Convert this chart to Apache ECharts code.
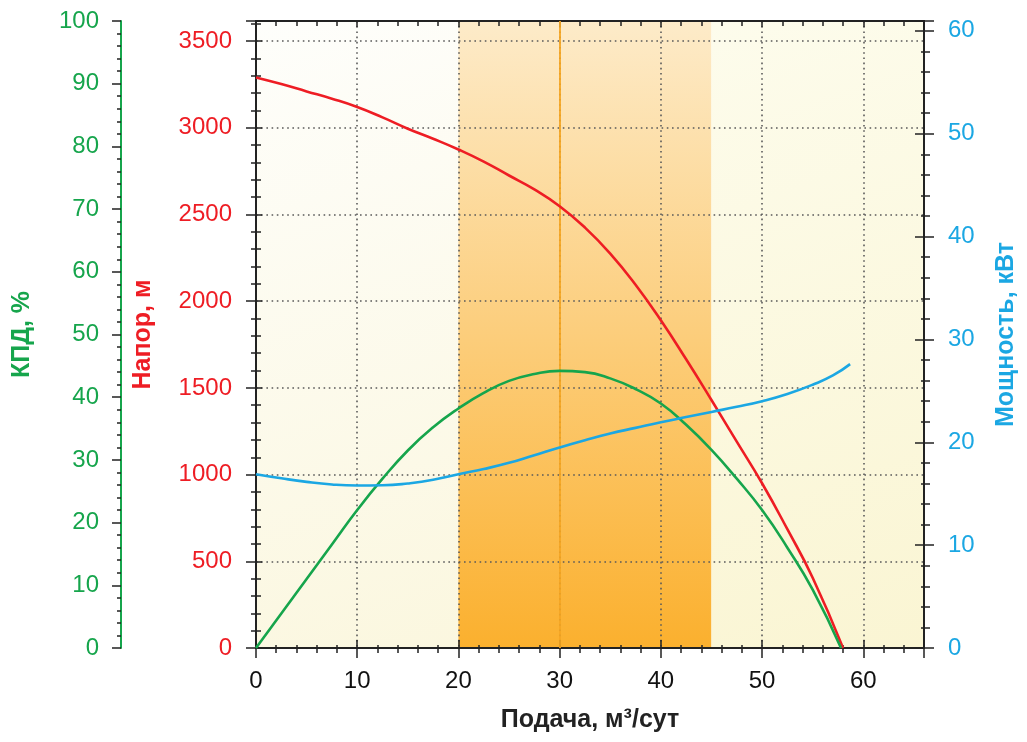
<!DOCTYPE html>
<html>
<head>
<meta charset="utf-8">
<script src="https://cdn.jsdelivr.net/npm/echarts@6/dist/echarts.min.js"></script>
<style>
  html, body { margin: 0; padding: 0; background: #ffffff; }
  #chart { width: 1027px; height: 742px; }
</style>
</head>
<body>
<div id="chart"></div>
<script>
// Данные кривых насоса
const headQ = [0, 2.5, 5, 7.5, 10, 12.5, 15, 17.5, 20, 22.5, 25, 27.5, 30, 32.5, 35, 37.5, 40, 42.5, 45, 47.5, 50, 52.5, 55, 58];
const headH = [3290, 3252, 3210, 3168, 3120, 3060, 2995, 2937, 2875, 2805, 2725, 2645, 2548, 2425, 2275, 2095, 1890, 1665, 1430, 1190, 950, 685, 405, 0];

const effQ = [0, 2.5, 5, 7.5, 10, 12.5, 15, 17.5, 20, 22.5, 25, 27.5, 30, 32.5, 35, 37.5, 40, 42.5, 45, 47.5, 50, 52.5, 55, 57.8];
const effEta = [0, 5.5, 11, 16.5, 22, 27, 31.5, 35.2, 38.2, 40.7, 42.6, 43.7, 44.2, 44.0, 43.0, 41.3, 39, 35.6, 31.6, 27.0, 22, 16.0, 9.3, 0];

const powerQ = [0, 2.5, 5, 7.5, 10, 12.5, 15, 17.5, 20, 22.5, 25, 27.5, 30, 32.5, 35, 37.5, 40, 42.5, 45, 47.5, 50, 52.5, 55, 57, 58.7];
const powerN = [16.9, 16.5, 16.15, 15.9, 15.8, 15.82, 16.0, 16.35, 16.9, 17.4, 18.0, 18.75, 19.5, 20.2, 20.85, 21.4, 21.95, 22.45, 22.95, 23.45, 24.0, 24.7, 25.6, 26.5, 27.6];

// Рабочая зона и номинальная подача
const workRange = [20, 45];
const nominalQ = 30;

const FONT = 'Liberation Sans, Arial, sans-serif';
const RED = '#ee1d24';
const GREEN = '#16a54c';
const BLUE = '#1ba7e3';
const TICK = '#222222';

function pairs(xs, ys) {
    return xs.map((x, i) => [x, ys[i]]);
}

function grad(x, y, x2, y2, c0, c1) {
    return new echarts.graphic.LinearGradient(x, y, x2, y2, [
        { offset: 0, color: c0 },
        { offset: 1, color: c1 },
    ]);
}

const plain = (v) => String(v);
const dotted = { color: '#5a5a5a', width: 1.6, type: [1.6, 3.6] };

// Базовые настройки осей
function xAxisBase(extra) {
    return Object.assign({
        type: 'value',
        min: 0,
        max: 66,
        interval: 10,
        z: 2,
        axisLine: { show: true, onZero: false, lineStyle: { color: TICK, width: 2 } },
        axisLabel: { show: false },
        splitLine: { show: false },
        minorTick: { show: true, splitNumber: 5, length: 5, lineStyle: { color: TICK, width: 1.5 } },
        axisTick: { show: true, length: 9, lineStyle: { color: TICK, width: 1.5 } },
    }, extra);
}

function yAxisBase(extra) {
    return Object.assign({
        type: 'value',
        min: 0,
        z: 2,
        axisLine: { show: true, onZero: false, lineStyle: { color: TICK, width: 2 } },
        axisLabel: { show: false },
        splitLine: { show: false },
        minorTick: { show: true, splitNumber: 5, length: 5, lineStyle: { color: TICK, width: 1.5 } },
        axisTick: { show: true, length: 9, lineStyle: { color: TICK, width: 1.5 } },
    }, extra);
}

const nameStyle = (color, size) => ({ fontFamily: FONT, fontSize: size, fontWeight: 'bold', color: color });
const labelStyle = (color, margin) => ({
    show: true, showMaxLabel: false, margin: margin, fontSize: 24, color: color, fontFamily: FONT, formatter: plain,
});

function curve(name, xs, ys, yAxisIndex, color) {
    return {
        name: name,
        type: 'line',
        xAxisIndex: 0,
        yAxisIndex: yAxisIndex,
        z: 3,
        smooth: 0.5,
        showSymbol: false,
        data: pairs(xs, ys),
        lineStyle: { color: color, width: 2.6 },
    };
}

const chart = echarts.init(document.getElementById('chart'));

const headSeries = curve('Напор', headQ, headH, 0, RED);
// Фон: зоны подачи
headSeries.markArea = {
    silent: true,
    z: 1,
    data: [
        [{ xAxis: 0, itemStyle: { color: grad(0, 0, 1, 1, '#fefefb', '#fbf7df') } }, { xAxis: workRange[0] }],
        [{ xAxis: workRange[0], itemStyle: { color: grad(0, 0, 0, 1, '#fdebc9', '#fbb02e') } }, { xAxis: workRange[1] }],
        [{ xAxis: workRange[1], itemStyle: { color: grad(0, 0, 1, 1, '#fdfcec', '#faf5d3') } }, { xAxis: 66 }],
    ],
};
headSeries.markLine = {
    silent: true,
    z: 2.5,
    symbol: 'none',
    label: { show: false },
    lineStyle: { color: '#f5a623', width: 1.8, type: 'solid' },
    data: [{ xAxis: nominalQ }],
};

const option = {
    animation: false,
    backgroundColor: '#ffffff',
    textStyle: { fontFamily: FONT },
    grid: { left: 256, right: 99, top: 21, bottom: 94 },
    xAxis: [
        xAxisBase({
            position: 'bottom',
            name: 'Подача, м³/сут',
            nameLocation: 'middle',
            nameGap: 60,
            nameTextStyle: nameStyle('#222', 25),
            axisTick: { show: true, length: 10, lineStyle: { color: TICK, width: 1.5 } },
            axisLabel: labelStyle('#111', 21),
            splitLine: { show: true, showMaxLine: false, lineStyle: dotted },
        }),
        xAxisBase({
            position: 'bottom',
            axisTick: { show: true, inside: true, length: 8, lineStyle: { color: TICK, width: 1.5 } },
            minorTick: { show: true, splitNumber: 5, length: 3, lineStyle: { color: TICK, width: 1.5 } },
        }),
        xAxisBase({
            position: 'top',
            axisTick: { show: true, inside: true, length: 6, lineStyle: { color: TICK, width: 1.5 } },
            minorTick: { show: true, splitNumber: 5, length: 5, lineStyle: { color: TICK, width: 1.5 } },
        }),
    ],
    yAxis: [
        // Напор
        yAxisBase({
            position: 'left',
            max: 3616,
            interval: 500,
            name: 'Напор, м',
            nameLocation: 'middle',
            nameRotate: 90,
            nameGap: 100,
            nameTextStyle: nameStyle(RED, 25),
            axisTick: { show: true, length: 10, lineStyle: { color: TICK, width: 1.5 } },
            axisLabel: labelStyle(RED, 24),
            splitLine: { show: true, showMaxLine: false, lineStyle: dotted },
        }),
        yAxisBase({
            position: 'left',
            max: 3616,
            interval: 500,
            axisTick: { show: true, inside: true, length: 6, lineStyle: { color: TICK, width: 1.5 } },
            minorTick: { show: true, splitNumber: 5, length: 5, lineStyle: { color: TICK, width: 1.5 } },
        }),
        // КПД
        yAxisBase({
            position: 'left',
            offset: 135,
            max: 100,
            interval: 10,
            name: 'КПД, %',
            nameLocation: 'middle',
            nameRotate: 90,
            nameGap: 86,
            nameTextStyle: nameStyle(GREEN, 25),
            axisLine: { show: true, onZero: false, lineStyle: { color: GREEN, width: 2 } },
            axisLabel: Object.assign(labelStyle(GREEN, 22), { showMaxLabel: true }),
            minorTick: { show: true, splitNumber: 5, length: 4, lineStyle: { color: TICK, width: 1.5 } },
        }),
        // Мощность
        yAxisBase({
            position: 'right',
            max: 60.96,
            interval: 10,
            name: 'Мощность, кВт',
            nameLocation: 'middle',
            nameRotate: 90,
            nameGap: 70,
            nameTextStyle: nameStyle(BLUE, 25),
            axisTick: { show: true, length: 10, lineStyle: { color: TICK, width: 1.5 } },
            minorTick: { show: true, splitNumber: 5, length: 6, lineStyle: { color: TICK, width: 1.5 } },
            axisLabel: labelStyle(BLUE, 24),
        }),
        yAxisBase({
            position: 'right',
            max: 60.96,
            interval: 10,
            axisTick: { show: true, inside: true, length: 9, lineStyle: { color: TICK, width: 1.5 } },
            minorTick: { show: true, splitNumber: 5, length: 3, lineStyle: { color: TICK, width: 1.5 } },
        }),
    ],
    series: [
        headSeries,
        curve('КПД', effQ, effEta, 2, GREEN),
        curve('Мощность', powerQ, powerN, 3, BLUE),
    ],
};

chart.setOption(option);
</script>
</body>
</html>
